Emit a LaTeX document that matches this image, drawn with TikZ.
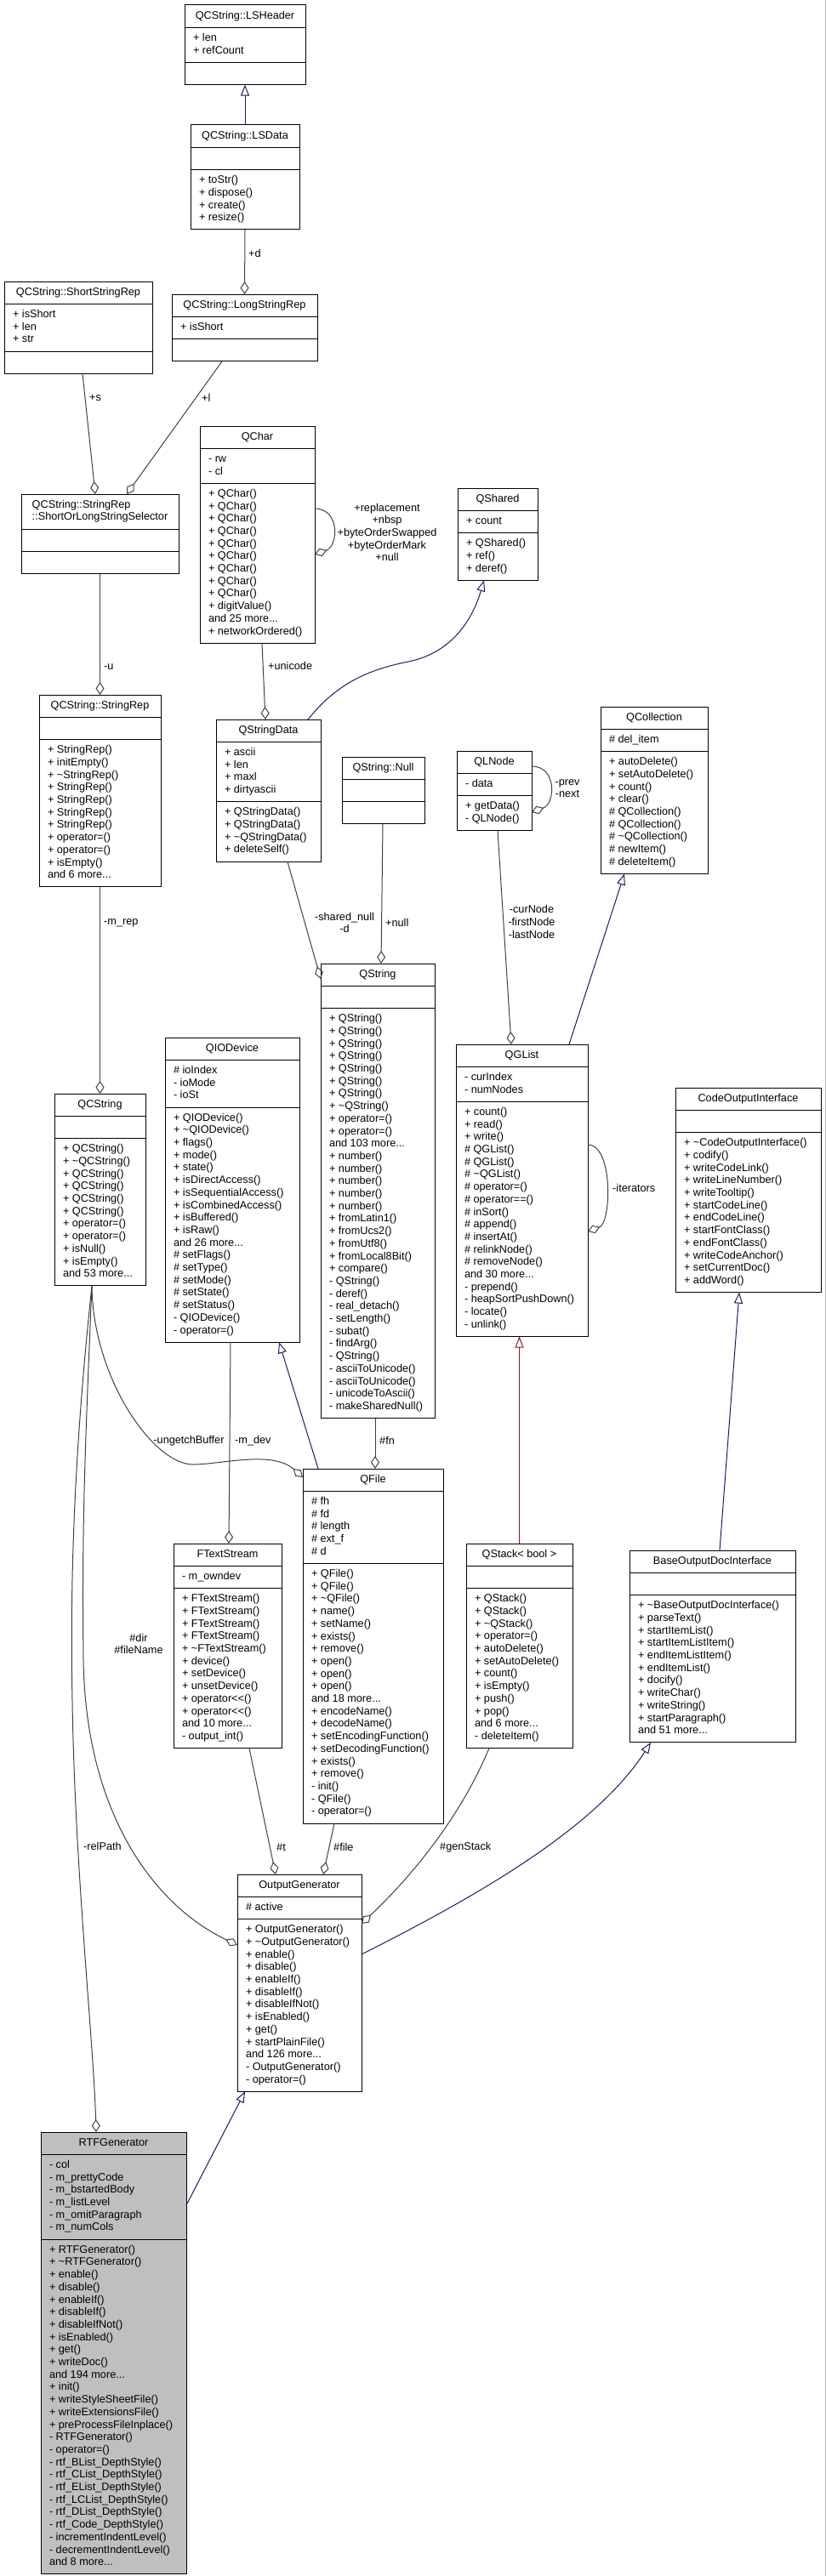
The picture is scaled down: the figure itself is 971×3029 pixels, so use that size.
\documentclass[tikz,border=0pt]{standalone}
\usepackage{fontspec}
\setmainfont{Liberation Sans}
\usetikzlibrary{arrows.meta, shapes.multipart}

\definecolor{edgegrey}{HTML}{404040}
\definecolor{inhblue}{HTML}{191970}
\definecolor{privred}{HTML}{8B1A1A}
\definecolor{classfill}{HTML}{BFBFBF}

\begin{document}
\begin{tikzpicture}[x=1pt, y=-1pt,
  umlclass/.style={rectangle split, rectangle split parts=3, draw=black, line width=1pt,
    fill=white, font=\clsfont, align=left, rectangle split part align={center,left,left},
    inner xsep=10pt, inner ysep=5.3pt, outer sep=0pt},
  lbl/.style={font=\clsfont, inner sep=0pt},
  agg/.style={draw=edgegrey, line width=1pt, -{Diamond[open, length=15pt, width=10pt]}},
  inh/.style={draw=inhblue, line width=1pt, -{Triangle[open, length=13pt, width=10pt]}},
  privinh/.style={inh, draw=privred}]

% Font of the class boxes
\newcommand{\clsfont}{\fontsize{12.7}{14.7}\selectfont}
% Class box: name, style, x, y, width, title, attributes, methods
\newcommand{\umlbox}[8]{
  \node[umlclass, #2, minimum width=#5pt, anchor=north west] (#1) at (#3,#4)
    {\strut#6\strut\nodepart{two}\strut#7\strut\nodepart{three}\strut#8\strut};
}

\useasboundingbox (0,0) rectangle (971,3029);
\draw[gray!55, line width=1pt] (970,0) -- (970,3029);

% QCString internals
\umlbox{lsheader}{}{217}{6}{142}{QCString::LSHeader}{+ len\\+ refCount}{}
\umlbox{lsdata}{}{224}{147}{128}{QCString::LSData}{}{+ toStr()\\+ dispose()\\+ create()\\+ resize()}
\umlbox{shortrep}{}{5}{331}{174}{QCString::ShortStringRep}{+ isShort\\+ len\\+ str}{}
\umlbox{longrep}{}{202}{346}{171}{QCString::LongStringRep}{+ isShort}{}
\umlbox{selector}{}{25}{581}{185}{QCString::StringRep\\::ShortOrLongStringSelector}{}{}
\umlbox{stringrep}{}{46}{817}{143}{QCString::StringRep}{}{+ StringRep()\\+ initEmpty()\\+ \textasciitilde StringRep()\\+ StringRep()\\+ StringRep()\\+ StringRep()\\+ StringRep()\\+ operator=()\\+ operator=()\\+ isEmpty()\\and 6 more...}
\umlbox{qcstring}{}{64}{1286}{107}{QCString}{}{+ QCString()\\+ \textasciitilde QCString()\\+ QCString()\\+ QCString()\\+ QCString()\\+ QCString()\\+ operator=()\\+ operator=()\\+ isNull()\\+ isEmpty()\\and 53 more...}

% QString side
\umlbox{qchar}{}{235}{501}{135}{QChar}{- rw\\- cl}{+ QChar()\\+ QChar()\\+ QChar()\\+ QChar()\\+ QChar()\\+ QChar()\\+ QChar()\\+ QChar()\\+ QChar()\\+ digitValue()\\and 25 more...\\+ networkOrdered()}
\umlbox{qshared}{}{538}{574}{94}{QShared}{+ count}{+ QShared()\\+ ref()\\+ deref()}
\umlbox{qstringdata}{}{254}{846}{123}{QStringData}{+ ascii\\+ len\\+ maxl\\+ dirtyascii}{+ QStringData()\\+ QStringData()\\+ \textasciitilde QStringData()\\+ deleteSelf()}
\umlbox{qstrnull}{}{402}{890}{97}{QString::Null}{}{}
\umlbox{qstring}{}{377}{1133}{134}{QString}{}{+ QString()\\+ QString()\\+ QString()\\+ QString()\\+ QString()\\+ QString()\\+ QString()\\+ \textasciitilde QString()\\+ operator=()\\+ operator=()\\and 103 more...\\+ number()\\+ number()\\+ number()\\+ number()\\+ number()\\+ fromLatin1()\\+ fromUcs2()\\+ fromUtf8()\\+ fromLocal8Bit()\\+ compare()\\- QString()\\- deref()\\- real\_detach()\\- setLength()\\- subat()\\- findArg()\\- QString()\\- asciiToUnicode()\\- asciiToUnicode()\\- unicodeToAscii()\\- makeSharedNull()}

% Lists
\umlbox{qlnode}{}{537}{883}{88}{QLNode}{- data}{+ getData()\\- QLNode()}
\umlbox{qcollection}{}{706}{831}{126}{QCollection}{\# del\_item}{+ autoDelete()\\+ setAutoDelete()\\+ count()\\+ clear()\\\# QCollection()\\\# QCollection()\\\# \textasciitilde QCollection()\\\# newItem()\\\# deleteItem()}
\umlbox{qglist}{}{536}{1228}{155}{QGList}{- curIndex\\- numNodes}{+ count()\\+ read()\\+ write()\\\# QGList()\\\# QGList()\\\# \textasciitilde QGList()\\\# operator=()\\\# operator==()\\\# inSort()\\\# append()\\\# insertAt()\\\# relinkNode()\\\# removeNode()\\and 30 more...\\- prepend()\\- heapSortPushDown()\\- locate()\\- unlink()}
\umlbox{qstack}{}{548}{1815}{125}{QStack< bool >}{}{+ QStack()\\+ QStack()\\+ \textasciitilde QStack()\\+ operator=()\\+ autoDelete()\\+ setAutoDelete()\\+ count()\\+ isEmpty()\\+ push()\\+ pop()\\and 6 more...\\- deleteItem()}

% Devices and streams
\umlbox{qiodevice}{}{194}{1220}{158}{QIODevice}{\# ioIndex\\- ioMode\\- ioSt}{+ QIODevice()\\+ \textasciitilde QIODevice()\\+ flags()\\+ mode()\\+ state()\\+ isDirectAccess()\\+ isSequentialAccess()\\+ isCombinedAccess()\\+ isBuffered()\\+ isRaw()\\and 26 more...\\\# setFlags()\\\# setType()\\\# setMode()\\\# setState()\\\# setStatus()\\- QIODevice()\\- operator=()}
\umlbox{qfile}{}{356}{1727}{165}{QFile}{\# fh\\\# fd\\\# length\\\# ext\_f\\\# d}{+ QFile()\\+ QFile()\\+ \textasciitilde QFile()\\+ name()\\+ setName()\\+ exists()\\+ remove()\\+ open()\\+ open()\\+ open()\\and 18 more...\\+ encodeName()\\+ decodeName()\\+ setEncodingFunction()\\+ setDecodingFunction()\\+ exists()\\+ remove()\\- init()\\- QFile()\\- operator=()}
\umlbox{ftextstream}{}{204}{1815}{127}{FTextStream}{- m\_owndev}{+ FTextStream()\\+ FTextStream()\\+ FTextStream()\\+ FTextStream()\\+ \textasciitilde FTextStream()\\+ device()\\+ setDevice()\\+ unsetDevice()\\+ operator<{}<()\\+ operator<{}<()\\and 10 more...\\- output\_int()}

% Output interfaces
\umlbox{codeout}{}{794}{1279}{171}{CodeOutputInterface}{}{+ \textasciitilde CodeOutputInterface()\\+ codify()\\+ writeCodeLink()\\+ writeLineNumber()\\+ writeTooltip()\\+ startCodeLine()\\+ endCodeLine()\\+ startFontClass()\\+ endFontClass()\\+ writeCodeAnchor()\\+ setCurrentDoc()\\+ addWord()}
\umlbox{basedoc}{}{740}{1823}{195}{BaseOutputDocInterface}{}{+ \textasciitilde BaseOutputDocInterface()\\+ parseText()\\+ startItemList()\\+ startItemListItem()\\+ endItemListItem()\\+ endItemList()\\+ docify()\\+ writeChar()\\+ writeString()\\+ startParagraph()\\and 51 more...}
\umlbox{outgen}{}{279}{2204}{146}{OutputGenerator}{\# active}{+ OutputGenerator()\\+ \textasciitilde OutputGenerator()\\+ enable()\\+ disable()\\+ enableIf()\\+ disableIf()\\+ disableIfNot()\\+ isEnabled()\\+ get()\\+ startPlainFile()\\and 126 more...\\- OutputGenerator()\\- operator=()}
\umlbox{rtfgen}{fill=classfill}{48}{2507}{171}{RTFGenerator}{- col\\- m\_prettyCode\\- m\_bstartedBody\\- m\_listLevel\\- m\_omitParagraph\\- m\_numCols}{+ RTFGenerator()\\+ \textasciitilde RTFGenerator()\\+ enable()\\+ disable()\\+ enableIf()\\+ disableIf()\\+ disableIfNot()\\+ isEnabled()\\+ get()\\+ writeDoc()\\and 194 more...\\+ init()\\+ writeStyleSheetFile()\\+ writeExtensionsFile()\\+ preProcessFileInplace()\\- RTFGenerator()\\- operator=()\\- rtf\_BList\_DepthStyle()\\- rtf\_CList\_DepthStyle()\\- rtf\_EList\_DepthStyle()\\- rtf\_LCList\_DepthStyle()\\- rtf\_DList\_DepthStyle()\\- rtf\_Code\_DepthStyle()\\- incrementIndentLevel()\\- decrementIndentLevel()\\and 8 more...}

% Inheritance
\draw[inh] (lsdata.north) -- (lsheader.south);
\draw[inh] ([xshift=108pt]qstringdata.north west) .. controls (395,805) and (430,788) .. (480,778)
  .. controls (530,768) and (555,730) .. ([xshift=31pt]qshared.south west);
\draw[inh] ([xshift=133pt]qglist.north west) -- ([xshift=28pt]qcollection.south west);
\draw[privinh] (qstack.north) -- (qstack.north |- qglist.south);
\draw[inh] ([xshift=18pt]qfile.north west) -- ([xshift=134pt]qiodevice.south west);
\draw[inh] ([xshift=106pt]basedoc.north west) -- ([xshift=75pt]codeout.south west);
\draw[inh] ([yshift=-94pt]outgen.north east) .. controls (560,2230) and (700,2150) .. ([xshift=25pt]basedoc.south west);
\draw[inh] ([yshift=-86pt]rtfgen.north east) -- ([xshift=9pt]outgen.south west);

% Members
\draw[agg] (lsdata.south) -- (longrep.north);
\draw[agg] ([xshift=92pt]shortrep.south west) -- ([xshift=87pt]selector.north west);
\draw[agg] ([xshift=59pt]longrep.south west) -- ([xshift=124pt]selector.north west);
\draw[agg] (selector.south) -- (stringrep.north);
\draw[agg] ([xshift=73pt]qchar.south west) -- ([xshift=58pt]qstringdata.north west);
\draw[agg] ([yshift=-97pt]qchar.north east) .. controls +(30,0) and +(28,-10) .. ([yshift=-151pt]qchar.north east);
\draw[agg] (stringrep.south) -- (qcstring.north);
\draw[agg] ([xshift=84pt]qstringdata.south west) -- ([yshift=-18pt]qstring.north west);
\draw[agg] ([xshift=48pt]qstrnull.south west) -- ([xshift=71pt]qstring.north west);
\draw[agg] ([yshift=-18pt]qlnode.north east) .. controls +(30,0) and +(28,-10) .. ([yshift=-72pt]qlnode.north east);
\draw[agg] ([xshift=48pt]qlnode.south west) -- ([xshift=65pt]qglist.north west);
\draw[agg] ([yshift=-118pt]qglist.north east) .. controls +(30,0) and +(28,-10) .. ([yshift=-220pt]qglist.north east);
\draw[agg] ([xshift=77pt]qiodevice.south west) -- ([xshift=65pt]ftextstream.north west);
\draw[agg] ([xshift=64pt]qstring.south west) -- ([xshift=85pt]qfile.north west);
\draw[agg] ([xshift=44pt]qcstring.south west) .. controls (109,1620) and (180,1722) .. (227,1722)
  .. controls (260,1722) and (320,1705) .. ([yshift=-10pt]qfile.north west);
\draw[agg] ([xshift=44pt]qcstring.south west) .. controls (100,1700) and (96,1800) .. (98,1950)
  .. controls (100,2130) and (180,2240) .. ([yshift=-83pt]outgen.north west);
\draw[agg] ([xshift=44pt]qcstring.south west) .. controls (88,1700) and (82,1850) .. (85,2000)
  .. controls (88,2200) and (110,2400) .. ([xshift=65pt]rtfgen.north west);
\draw[agg] ([xshift=89pt]ftextstream.south west) -- ([xshift=45pt]outgen.north west);
\draw[agg] ([xshift=37pt]qfile.south west) -- ([xshift=101pt]outgen.north west);
\draw[agg] ([xshift=27pt]qstack.south west) .. controls (540,2140) and (480,2210) .. ([yshift=-58pt]outgen.north east);

% Member names
\node[lbl, anchor=west] (lab-d) at (292,298) {+d};
\node[lbl, anchor=west] (lab-s) at (105,468) {+s};
\node[lbl, anchor=west] (lab-l) at (237,468) {+l};
\node[lbl, align=center] (lab-qchar) at (455,626) {+replacement\\+nbsp\\+byteOrderSwapped\\+byteOrderMark\\+null};
\node[lbl, anchor=west] (lab-u) at (122,784) {-u};
\node[lbl, anchor=west] (lab-unicode) at (315,783) {+unicode};
\node[lbl, align=center] (lab-prev) at (667,927) {-prev\\-next};
\node[lbl, align=center] (lab-cur) at (625,1084) {-curNode\\-firstNode\\-lastNode};
\node[lbl, align=center] (lab-shared) at (405,1085) {-shared\_null\\-d};
\node[lbl, anchor=west] (lab-null) at (453,1085) {+null};
\node[lbl, anchor=west] (lab-rep) at (122,1085) {-m\_rep};
\node[lbl, anchor=west] (lab-iter) at (720,1397) {-iterators};
\node[lbl] (lab-unget) at (222,1694) {-ungetchBuffer};
\node[lbl, anchor=west] (lab-dev) at (276,1694) {-m\_dev};
\node[lbl, anchor=west] (lab-fn) at (446,1694) {\#fn};
\node[lbl, align=center] (lab-dir) at (163,1933) {\#dir\\\#fileName};
\node[lbl, anchor=west] (lab-rel) at (98,2171) {-relPath};
\node[lbl, anchor=west] (lab-t) at (325,2172) {\#t};
\node[lbl, anchor=west] (lab-file) at (392,2172) {\#file};
\node[lbl, anchor=west] (lab-gen) at (517,2172) {\#genStack};

\end{tikzpicture}
\end{document}
